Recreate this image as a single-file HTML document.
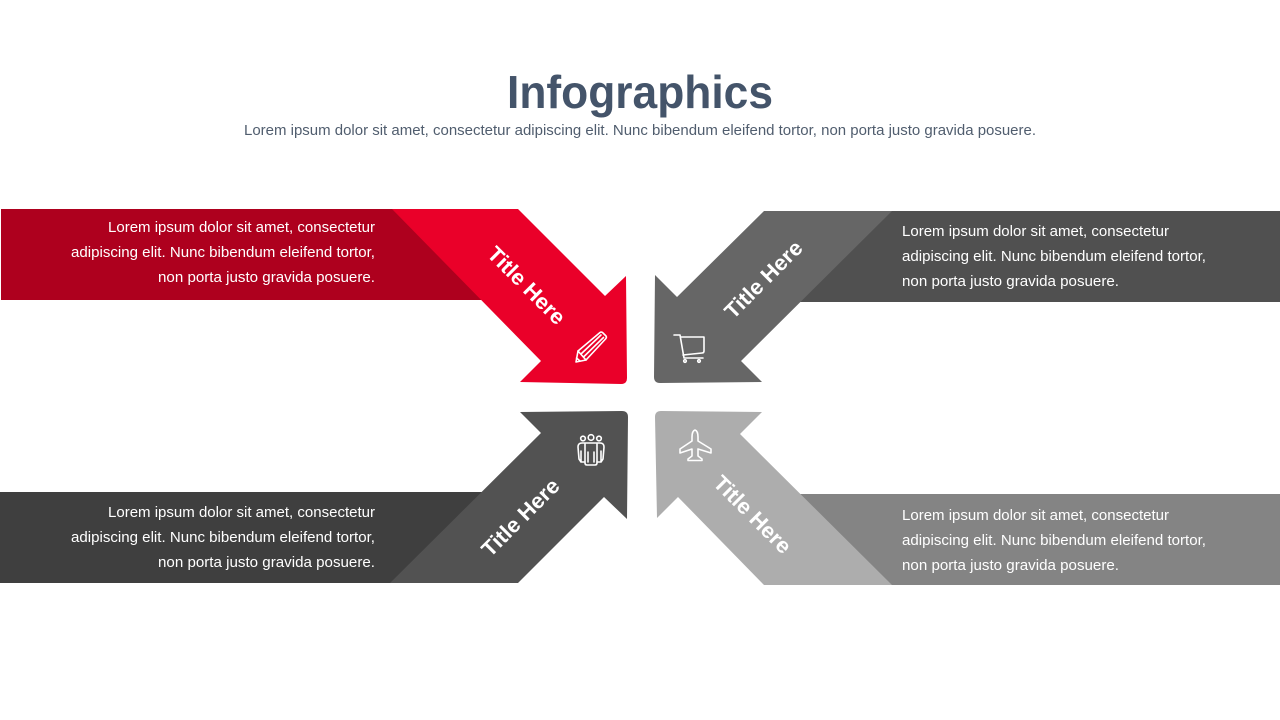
<!DOCTYPE html>
<html><head><meta charset="utf-8"><title>Infographics</title>
<style>
html,body{margin:0;padding:0;background:#fff;width:1280px;height:720px;overflow:hidden}
svg{display:block}
text{font-family:"Liberation Sans",sans-serif}
.b{font-size:14.5px;fill:#fff}
.t{font-size:21.5px;font-weight:bold;fill:#fff;text-anchor:middle}
.i{fill:none;stroke:#fff;stroke-width:1.6;stroke-linejoin:round;stroke-linecap:round}
</style></head><body>
<svg width="1280" height="720" viewBox="0 0 1280 720" xmlns="http://www.w3.org/2000/svg">
<rect width="1280" height="720" fill="#fff"/>
<text x="507" y="108" font-size="46" font-weight="bold" fill="#44546a" textLength="266" lengthAdjust="spacingAndGlyphs">Infographics</text>
<text x="244" y="135" font-size="15" fill="#505d6e" textLength="792" lengthAdjust="spacingAndGlyphs">Lorem ipsum dolor sit amet, consectetur adipiscing elit. Nunc bibendum eleifend tortor, non porta justo gravida posuere.</text>

<!-- bands (extended slightly beneath the arrows to avoid seams) -->
<polygon points="1,209 400,209 490,300 1,300" fill="#ae001e"/>
<polygon points="884,211 1280,211 1280,302 794,302" fill="#505050"/>
<polygon points="0,492 489,492 398,583 0,583" fill="#3f3f3f"/>
<polygon points="793,494 1280,494 1280,585 884,585" fill="#848484"/>

<!-- arrows -->
<path d="M392,209 L518,209 L605,296 L626,276 L627,378 Q627,384 621,384 L520,382 L541,361 Z" fill="#ea0029"/>
<path d="M764,211 L892,211 L741,361 L762,382 L660,383 Q654,383 654,377 L655,275 L677,297 Z" fill="#666666"/>
<path d="M390,583 L518,583 L604,497 L627,519 L628,417 Q628,411 622,411 L520,412 L541,433 Z" fill="#525252"/>
<path d="M764,585 L892,585 L740,434 L762,412 L661,411 Q655,411 655,417 L657,518 L678,497 Z" fill="#adadad"/>

<!-- arrow titles -->
<text class="t" transform="translate(527,285) rotate(45)" y="8" textLength="100" lengthAdjust="spacingAndGlyphs">Title Here</text>
<text class="t" transform="translate(763,279) rotate(-45)" y="8" textLength="100" lengthAdjust="spacingAndGlyphs">Title Here</text>
<text class="t" transform="translate(520,517) rotate(-45)" y="8" textLength="100" lengthAdjust="spacingAndGlyphs">Title Here</text>
<text class="t" transform="translate(753,514) rotate(45)" y="8" textLength="100" lengthAdjust="spacingAndGlyphs">Title Here</text>

<!-- band text -->
<text class="b" x="108" y="232" textLength="267" lengthAdjust="spacingAndGlyphs">Lorem ipsum dolor sit amet, consectetur</text>
<text class="b" x="71" y="257" textLength="304" lengthAdjust="spacingAndGlyphs">adipiscing elit. Nunc bibendum eleifend tortor,</text>
<text class="b" x="158" y="282" textLength="217" lengthAdjust="spacingAndGlyphs">non porta justo gravida posuere.</text>

<text class="b" x="902" y="236" textLength="267" lengthAdjust="spacingAndGlyphs">Lorem ipsum dolor sit amet, consectetur</text>
<text class="b" x="902" y="261" textLength="304" lengthAdjust="spacingAndGlyphs">adipiscing elit. Nunc bibendum eleifend tortor,</text>
<text class="b" x="902" y="286" textLength="217" lengthAdjust="spacingAndGlyphs">non porta justo gravida posuere.</text>

<text class="b" x="108" y="517" textLength="267" lengthAdjust="spacingAndGlyphs">Lorem ipsum dolor sit amet, consectetur</text>
<text class="b" x="71" y="542" textLength="304" lengthAdjust="spacingAndGlyphs">adipiscing elit. Nunc bibendum eleifend tortor,</text>
<text class="b" x="158" y="567" textLength="217" lengthAdjust="spacingAndGlyphs">non porta justo gravida posuere.</text>

<text class="b" x="902" y="520" textLength="267" lengthAdjust="spacingAndGlyphs">Lorem ipsum dolor sit amet, consectetur</text>
<text class="b" x="902" y="545" textLength="304" lengthAdjust="spacingAndGlyphs">adipiscing elit. Nunc bibendum eleifend tortor,</text>
<text class="b" x="902" y="570" textLength="217" lengthAdjust="spacingAndGlyphs">non porta justo gravida posuere.</text>

<!-- pencil -->
<g class="i">
<path d="M576,362 L578,351 L600,332.500 Q601.500,331.500 603,333 L606,336 Q607,337.500 605.500,339 L586,360 Z"/>
<path d="M578,351 L586,360 M581,354 L601,335 M583.500,357 L603.500,337.500 M576.500,358 L580,361"/>
</g>
<!-- cart -->
<g class="i">
<path d="M674,335 L680,335 L684,358 L703,358"/>
<path d="M681,337 L704,337 L704,351 Q704,353 702,353 L683,355"/>
<circle cx="685" cy="361" r="1.300"/>
<circle cx="699" cy="361" r="1.300"/>
</g>
<!-- people -->
<g class="i">
<circle cx="583" cy="438.500" r="2.300"/>
<circle cx="591" cy="437.500" r="2.800"/>
<circle cx="599" cy="438.500" r="2.300"/>
<path d="M585,462 L581,462 L581,451 M581,462 L579,459 L578,447 Q578,443 582,443 L600,443 Q604,443 604,447 L603,459 L601,462 L601,451 M601,462 L597,462"/>
<path d="M585,444 L585,463 Q585,465 587,465 L595,465 Q597,465 597,463 L597,444 M588,452 L588,462 M594,452 L594,462"/>
</g>
<!-- plane -->
<g class="i">
<path d="M695,430 Q698,431 698,437 L698,441 L711,449 L711,453 L698,449 L698,456 L702,459 L702,460.500 L688,460.500 L688,459 L692,456 L692,449 L680,453 L680,449 L692,441 L692,437 Q692,431 695,430 Z"/>
</g>
</svg>
</body></html>
